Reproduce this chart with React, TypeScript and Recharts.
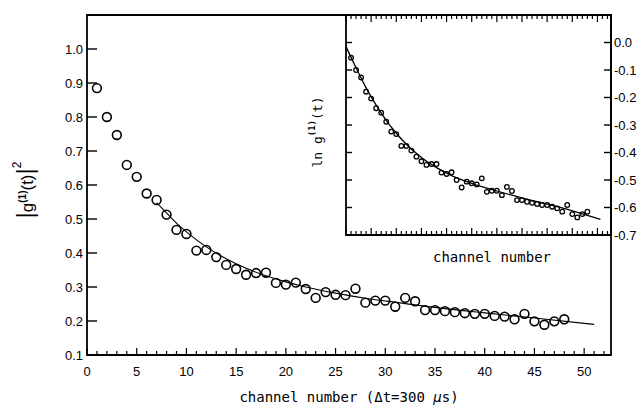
import React from 'react';
import { ComposedChart, Scatter, Line, XAxis, YAxis, ReferenceArea } from 'recharts';

// channel numbers shared by both panels
const channels = [
  1, 2, 3, 4, 5, 6, 7, 8, 9, 10, 11, 12, 13, 14, 15, 16, 17, 18, 19, 20, 21, 22, 23, 24,
  25, 26, 27, 28, 29, 30, 31, 32, 33, 34, 35, 36, 37, 38, 39, 40, 41, 42, 43, 44, 45, 46, 47, 48,
];

// |g(1)(t)|^2 measured points
const g2Values = [
  0.885, 0.8, 0.747, 0.659, 0.624, 0.575, 0.556, 0.513, 0.468, 0.456,
  0.407, 0.409, 0.388, 0.365, 0.353, 0.336, 0.341, 0.342, 0.312, 0.307,
  0.313, 0.294, 0.268, 0.285, 0.277, 0.276, 0.295, 0.254, 0.26, 0.26,
  0.242, 0.268, 0.258, 0.232, 0.232, 0.229, 0.226, 0.223, 0.221, 0.221,
  0.215, 0.213, 0.205, 0.221, 0.199, 0.189, 0.199, 0.205,
];

// fitted curve, main panel
const fitChannels = [7, 8, 9, 10, 12, 14, 16, 18, 20, 22, 25, 28, 30, 35, 40, 45, 51];
const fitValues = [
  0.548, 0.518, 0.488, 0.462, 0.418, 0.383, 0.355, 0.333, 0.315, 0.3, 0.282, 0.267, 0.259,
  0.24, 0.224, 0.209, 0.19,
];

// ln g(1)(t), inset
const lnValues = [
  -0.055, -0.1, -0.127, -0.179, -0.204, -0.239, -0.255, -0.288, -0.324, -0.333,
  -0.376, -0.376, -0.393, -0.415, -0.432, -0.445, -0.442, -0.442, -0.473, -0.478,
  -0.472, -0.5, -0.527, -0.506, -0.512, -0.516, -0.494, -0.543, -0.539, -0.539,
  -0.555, -0.525, -0.54, -0.573, -0.573, -0.579, -0.583, -0.587, -0.591, -0.591,
  -0.597, -0.603, -0.615, -0.591, -0.624, -0.636, -0.624, -0.615,
];

const lnFitChannels = [0, 2, 4, 6, 8, 10, 12, 15, 18, 21, 25, 30, 35, 40, 45, 50.6];
const lnFitValues = [
  -0.015, -0.092, -0.165, -0.228, -0.283, -0.33, -0.37, -0.418, -0.455, -0.484, -0.512,
  -0.54, -0.565, -0.588, -0.612, -0.643,
];

const mainYTicks = [0.1, 0.2, 0.3, 0.4, 0.5, 0.6, 0.7, 0.8, 0.9, 1.0];
const insetYTicks = [0.0, -0.1, -0.2, -0.3, -0.4, -0.5, -0.6, -0.7];
const majorXTicks = [0, 5, 10, 15, 20, 25, 30, 35, 40, 45, 50];
const minorXTicks = Array.from({ length: 53 }, (_, i) => i).filter((c) => c % 5 !== 0);

const X_MAX = 52.7;
const MAIN_Y: [number, number] = [0.1, 1.1];
const INSET_Y: [number, number] = [-0.7, 0.1];
const SANS = '"Liberation Sans", Arial, sans-serif';
const MONO = '"DejaVu Sans Mono", monospace';
const tickText = { fill: '#000', fontSize: 13, fontFamily: SANS };
const noLabel = () => '';

const mainPoints = channels.map((c, i) => ({ c, v: g2Values[i] }));
const mainFit = fitChannels.map((c, i) => ({ c, v: fitValues[i] }));
const lnPoints = channels.map((c, i) => ({ c, v: lnValues[i] }));
const lnFit = lnFitChannels.map((c, i) => ({ c, v: lnFitValues[i] }));

// tick marks placed through the chart scales, drawn pointing into the frame
const atX = (ticks: number[], v: number) => ticks.map((c) => ({ c, v }));
const atY = (ticks: number[], c: number) => ticks.map((v) => ({ c, v }));

const mark = (dx: number, dy: number, w = 1.2) => (p: any) => (
  <path d={`M${p.cx},${p.cy}l${dx},${dy}`} stroke="#000" strokeWidth={w} fill="none" />
);

// bottom-edge ticks, laid along the plot rectangle that the reference area receives
const bottomMarks = (p: any) => {
  const { x, y, width, height } = p;
  if ([x, y, width, height].some((n) => typeof n !== 'number' || Number.isNaN(n))) return <g />;
  const at = (c: number) => x + (c / X_MAX) * width;
  const base = y + height;
  const d =
    majorXTicks.map((c) => `M${at(c)},${base}v-7`).join('') +
    minorXTicks.map((c) => `M${at(c)},${base}v-4`).join('');
  return <path d={d} stroke="#000" strokeWidth={1.2} fill="none" />;
};

const openCircle = (r: number, w: number) => (p: any) => (
  <circle cx={p.cx} cy={p.cy} r={r} fill="none" stroke="#000" strokeWidth={w} />
);

const MainYLabel = () => (
  <text transform="translate(33,190) rotate(-90)" textAnchor="middle" fontSize={17} fontFamily={SANS} fill="#000">
    <tspan fontSize={24}>|</tspan>
    <tspan>g</tspan>
    <tspan dy={-7} fontSize={10} fontWeight="bold">(1)</tspan>
    <tspan dy={7}>(t)</tspan>
    <tspan fontSize={24}>|</tspan>
    <tspan dy={-12} fontSize={12}>2</tspan>
  </text>
);

const MainXLabel = () => (
  <text x={349} y={402} textAnchor="middle" fontSize={14} fontFamily={MONO} fill="#000">
    channel number (Δt=300 <tspan fontStyle="italic">μ</tspan>s)
  </text>
);

const InsetYLabel = () => (
  <text
    transform="translate(17,132) rotate(-90)"
    textAnchor="middle"
    dominantBaseline="central"
    fontSize={13}
    fontFamily={MONO}
    fill="#000"
  >
    <tspan>ln g</tspan>
    <tspan dy={-5} fontSize={9} fontWeight="bold">(1)</tspan>
    <tspan dy={5}>(t)</tspan>
  </text>
);

const InsetXLabel = () => (
  <text x={192} y={262} textAnchor="middle" fontSize={14} fontFamily={MONO} fill="#000">
    channel number
  </text>
);

const App: React.FC = () => {
  return (
    <div style={{ position: 'relative', width: 643, height: 409, background: '#fff' }}>
      <style>{'body{margin:0;}'}</style>
      <ComposedChart width={643} height={409} margin={{ top: 15, right: 32, bottom: 0, left: 0 }}>
        <XAxis
          type="number"
          dataKey="c"
          domain={[0, X_MAX]}
          ticks={majorXTicks}
          interval={0}
          height={54}
          axisLine={false}
          tickLine={false}
          tickSize={0}
          tickMargin={12}
          tick={tickText}
          label={<MainXLabel />}
        />
        <YAxis
          type="number"
          domain={MAIN_Y}
          ticks={mainYTicks}
          interval={0}
          width={87}
          axisLine={false}
          tickLine={false}
          tickSize={0}
          tickMargin={4}
          tick={tickText}
          tickFormatter={(v: number) => v.toFixed(1)}
          label={<MainYLabel />}
        />
        <ReferenceArea x1={0} x2={X_MAX} y1={MAIN_Y[0]} y2={MAIN_Y[1]} fill="none" stroke="#000" strokeWidth={1.8} />
        <ReferenceArea x1={0} x2={X_MAX} y1={MAIN_Y[0]} y2={MAIN_Y[1]} fill="none" stroke="none" shape={bottomMarks} />
        <Line
          data={mainFit}
          dataKey="v"
          type="monotone"
          stroke="#000"
          strokeWidth={1.1}
          dot={false}
          activeDot={false}
          isAnimationActive={false}
        />
        <Scatter data={mainPoints} dataKey="v" shape={openCircle(4.4, 1.6)} isAnimationActive={false} />
        <Scatter data={atY(mainYTicks, 0)} dataKey="v" shape={mark(10, 0, 1.4)} isAnimationActive={false} />
      </ComposedChart>

      <div style={{ position: 'absolute', left: 300, top: 0 }}>
        <ComposedChart width={343} height={270} margin={{ top: 15, right: 0, bottom: 0, left: 46 }}>
          <XAxis
            type="number"
            dataKey="c"
            domain={[0, X_MAX]}
            ticks={majorXTicks}
            height={35}
            axisLine={false}
            tickLine={false}
            tickFormatter={noLabel}
            label={<InsetXLabel />}
          />
          <YAxis
            orientation="right"
            type="number"
            domain={INSET_Y}
            ticks={insetYTicks}
            interval={0}
            width={32}
            axisLine={false}
            tickLine={false}
            tickSize={0}
            tickMargin={3}
            tick={tickText}
            tickFormatter={(v: number) => v.toFixed(1)}
            label={<InsetYLabel />}
          />
          <ReferenceArea x1={0} x2={X_MAX} y1={INSET_Y[0]} y2={INSET_Y[1]} fill="none" stroke="#000" strokeWidth={1.8} />
          <ReferenceArea x1={0} x2={X_MAX} y1={INSET_Y[0]} y2={INSET_Y[1]} fill="none" stroke="none" shape={bottomMarks} />
          <Line
            data={lnFit}
            dataKey="v"
            type="monotone"
            stroke="#000"
            strokeWidth={1.3}
            dot={false}
            activeDot={false}
            isAnimationActive={false}
          />
          <Scatter data={lnPoints} dataKey="v" shape={openCircle(2.3, 1.3)} isAnimationActive={false} />
          <Scatter data={atY(insetYTicks, 0)} dataKey="v" shape={mark(6, 0, 1.4)} isAnimationActive={false} />
          <Scatter data={atY(insetYTicks, X_MAX)} dataKey="v" shape={mark(-7, 0, 1.4)} isAnimationActive={false} />
          <Scatter data={atX(majorXTicks, INSET_Y[1])} dataKey="v" shape={mark(0, 7)} isAnimationActive={false} />
          <Scatter data={atX(minorXTicks, INSET_Y[1])} dataKey="v" shape={mark(0, 4)} isAnimationActive={false} />
        </ComposedChart>
      </div>
    </div>
  );
};

export default App;
